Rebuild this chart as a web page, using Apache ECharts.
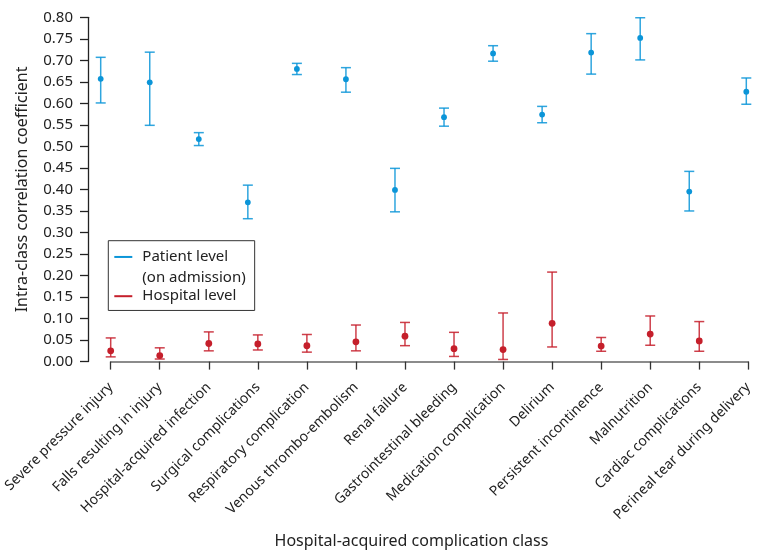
<!DOCTYPE html>
<html><head><meta charset="utf-8">
<script src="https://cdn.jsdelivr.net/npm/echarts@6/dist/echarts.min.js"></script>
<style>html,body{margin:0;padding:0;background:#fff}#c{width:757px;height:554px}</style>
</head><body><div id="c"></div>
<script>
const categories = ['Severe pressure injury','Falls resulting in injury','Hospital-acquired infection','Surgical complications','Respiratory complication','Venous thrombo-embolism','Renal failure','Gastrointestinal bleeding','Medication complication','Delirium','Persistent incontinence','Malnutrition','Cardiac complications','Perineal tear during delivery'];
const yMin = 0, yMax = 0.8, yStep = 0.05;
const patientICC  = [0.657,0.649,0.517,0.370,0.680,0.656,0.399,0.568,0.716,0.574,0.718,0.752,0.395,0.627];
const patientLow  = [0.601,0.549,0.502,0.332,0.667,0.626,0.348,0.547,0.698,0.555,0.668,0.701,0.350,0.598];
const patientHigh = [0.707,0.719,0.532,0.410,0.693,0.683,0.449,0.589,0.734,0.593,0.762,0.799,0.442,0.659];
const hospitalICC  = [0.025,0.014,0.042,0.041,0.037,0.046,0.059,0.030,0.028,0.089,0.036,0.064,0.048,null];
const hospitalLow  = [0.011,0.006,0.025,0.027,0.022,0.025,0.037,0.012,0.005,0.034,0.024,0.038,0.024,null];
const hospitalHigh = [0.055,0.032,0.069,0.062,0.063,0.085,0.091,0.068,0.113,0.208,0.056,0.106,0.093,null];

const BLUE = '#0b95d8', RED = '#c51f2b';
const FONT = 'Noto Sans';

function toData(v, lo, hi) {
  const out = [];
  v.forEach((val, i) => { if (val != null) out.push([i, val, lo[i], hi[i]]); });
  return out;
}
function makeRender(color, r, shiftFn) {
  return function (params, api) {
    const i = api.value(0);
    const c = api.coord([i, api.value(1)]);
    const lo = api.coord([i, api.value(2)]);
    const hi = api.coord([i, api.value(3)]);
    const x = c[0] + shiftFn(i);
    const w = 5;
    const ls = { stroke: color, lineWidth: 1.5, opacity: 0.85 };
    return { type: 'group', children: [
      { type: 'line', shape: { x1: x, y1: hi[1], x2: x, y2: lo[1] }, style: ls },
      { type: 'line', shape: { x1: x - w, y1: hi[1], x2: x + w, y2: hi[1] }, style: ls },
      { type: 'line', shape: { x1: x - w, y1: lo[1], x2: x + w, y2: lo[1] }, style: ls },
      { type: 'circle', shape: { cx: x, cy: c[1], r: r }, style: { fill: color } }
    ]};
  };
}

const chart = echarts.init(document.getElementById('c'), null, { renderer: 'canvas' });
chart.setOption({
  animation: false,
  backgroundColor: '#fff',
  textStyle: { fontFamily: FONT },
  grid: { left: 110.7, right: 8.7, top: 17.3, bottom: 190.7, containLabel: false },
  legend: {
    orient: 'vertical', left: 108.3, top: 240.7,
    itemWidth: 18, itemHeight: 2, itemGap: 1,
    padding: [6, 9, 4, 6],
    borderColor: '#333', borderWidth: 1,
    formatter: n => n === 'Patient level' ? 'Patient level\n(on admission)' : n,
    textStyle: { fontFamily: FONT, fontSize: 15, color: '#222', lineHeight: 20.5, rich: { z: {} } },
    data: [
      { name: 'Patient level', icon: 'rect', itemStyle: { color: BLUE }, textStyle: { padding: [0, 0, -20.5, 5] } },
      { name: 'Hospital level', icon: 'rect', itemStyle: { color: RED }, textStyle: { padding: [0, 0, 0, 5] } }
    ]
  },
  xAxis: {
    type: 'category', data: categories, boundaryGap: false, offset: 13.4,
    name: 'Hospital-acquired complication class', nameLocation: 'middle', nameGap: 158,
    nameTextStyle: { fontSize: 16, color: '#222', padding: [0, 36, 0, 0], verticalAlign: 'top' },
    axisLine: { lineStyle: { color: '#666', width: 1.5 } },
    axisTick: { length: 8, lineStyle: { color: '#333', width: 1.3 } },
    axisLabel: { rotate: 45, margin: 10, fontSize: 14, color: '#222', interval: 0 },
    splitLine: { show: false }
  },
  yAxis: {
    type: 'value', min: yMin, max: yMax, interval: yStep, offset: 22.7,
    name: 'Intra-class correlation coefficient', nameLocation: 'middle', nameGap: 58,
    nameTextStyle: { fontSize: 16, color: '#222' },
    axisLine: { show: true, lineStyle: { color: '#222', width: 1.3 } },
    axisTick: { show: true, length: 8, lineStyle: { color: '#222', width: 1.3 } },
    axisLabel: { margin: 15, fontSize: 15, color: '#222', formatter: v => v.toFixed(2) },
    splitLine: { show: false }
  },
  series: [
    {
      name: 'Patient level', type: 'custom', itemStyle: { color: BLUE },
      encode: { x: 0, y: [1, 2, 3] },
      renderItem: makeRender(BLUE, 2.9, i => hospitalICC[i] == null ? -2 : -10),
      data: toData(patientICC, patientLow, patientHigh)
    },
    {
      name: 'Hospital level', type: 'custom', itemStyle: { color: RED },
      encode: { x: 0, y: [1, 2, 3] },
      renderItem: makeRender(RED, 3.4, i => 0),
      data: toData(hospitalICC, hospitalLow, hospitalHigh)
    }
  ]
});
</script></body></html>
